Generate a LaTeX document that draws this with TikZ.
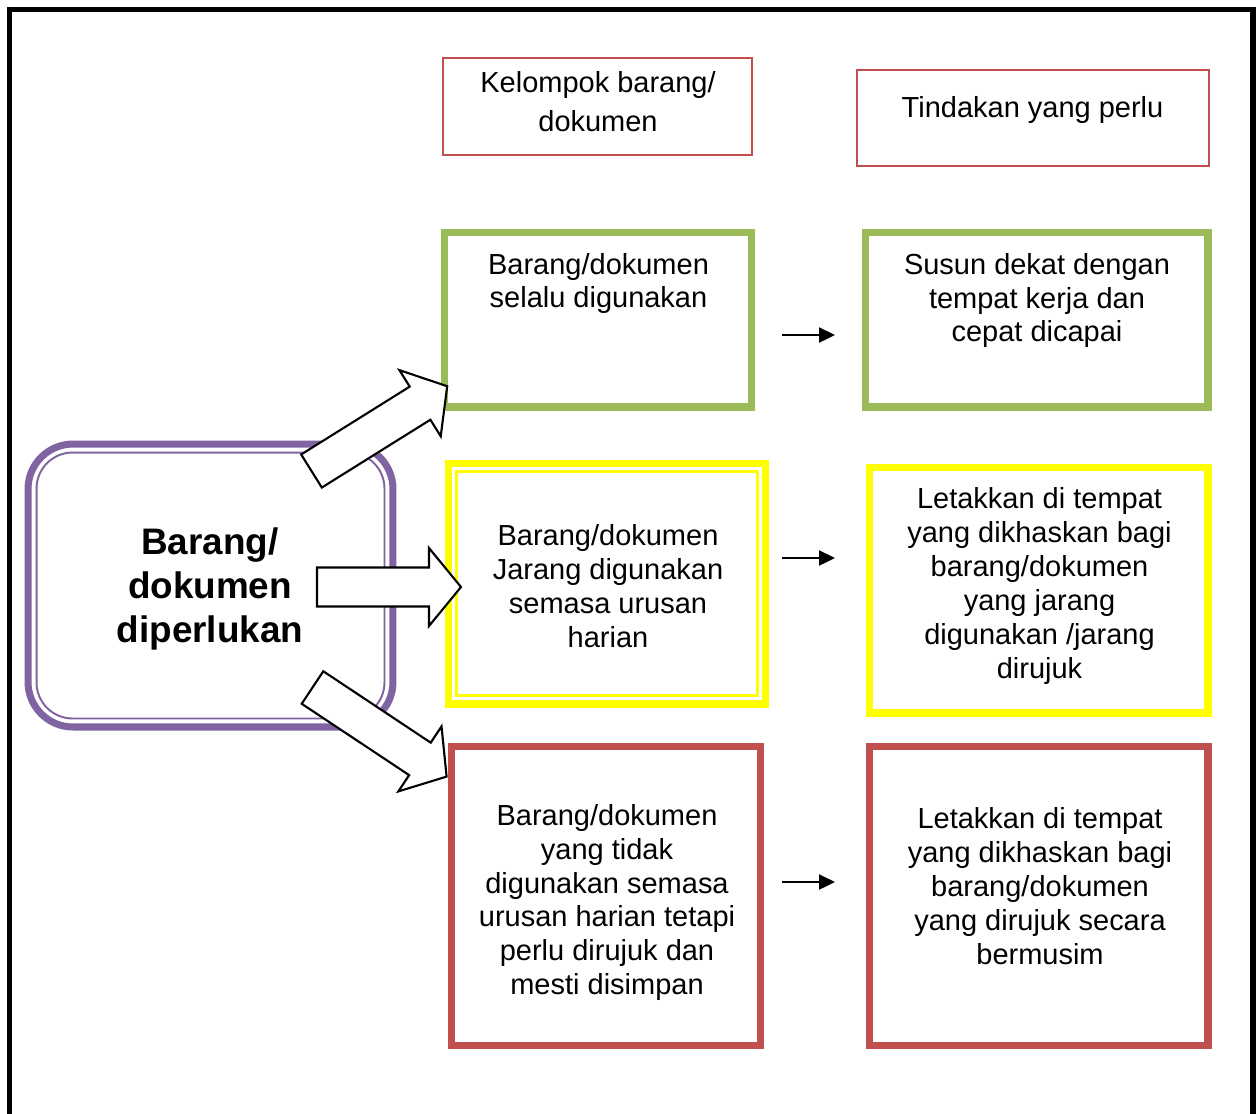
\documentclass[tikz,border=0pt]{standalone}
\usepackage{fontspec}
\setmainfont{Liberation Sans}
\usetikzlibrary{arrows.meta}
\definecolor{grpurple}{HTML}{8064A2}
\definecolor{grgreen}{HTML}{9BBB59}
\definecolor{grred}{HTML}{C0504D}
\definecolor{gryellow}{HTML}{FFFF00}

\tikzset{
  box/.style={draw, rectangle, outer sep=0pt, inner sep=0pt, line width=4pt},
  headbox/.style={box, draw=grred, line width=1.1pt},
  txt/.style={align=center, inner sep=0pt, font=\fontsize{16.5pt}{19.3pt}\selectfont},
  pointer/.style={line width=1.3pt, -{Triangle[length=0.32cm,width=0.3cm]}},
  bigarrow/.style={draw=black, fill=white, line width=1.2pt},
  pics/fatarrow/.style={code={
    \draw[bigarrow] (0,-19.5) -- ({#1-32},-19.5) -- ({#1-32},-39) -- (#1,0)
      -- ({#1-32},39) -- ({#1-32},19.5) -- (0,19.5) -- cycle;
  }}
}

\begin{document}
\begin{tikzpicture}[x=0.02cm, y=-0.02cm]
    \clip (0,0) rectangle (1256,1113);
    \fill[white] (0,0) rectangle (1256,1113);

    % Frame
    \draw[line width=2.9pt] (9.5,1130) -- (9.5,9.5) -- (1253,9.5) -- (1253,1130);

    % Headings
    \node[headbox, minimum width=6.18cm, minimum height=1.94cm] (hd1) at (597.5,106.5) {};
    \node[headbox, minimum width=7.04cm, minimum height=1.92cm] (hd2) at (1033,118) {};
    \node[txt, font=\fontsize{16.5pt}{22.1pt}\selectfont] (hd1t) at (598,102) {Kelompok barang/\\dokumen};
    \node[txt] (hd2t) at (1032.5,110) {Tindakan yang perlu};

    % Centre box
    \node[box, draw=grpurple, rounded corners=0.9cm, minimum width=7.3cm, minimum height=5.66cm] (pur) at (210.5,585.5) {};
    \draw[grpurple, line width=1.1pt, rounded corners=0.72cm]
      ([shift={(8.5,8.5)}]pur.north west) rectangle ([shift={(-8.5,-8.5)}]pur.south east);
    \node[txt, font=\fontsize{21pt}{25pt}\selectfont\bfseries] (purt) at (210,589) {Barang/\\dokumen\\diperlukan};

    % Often used
    \node[box, draw=grgreen, minimum width=6.16cm, minimum height=3.5cm] (g1) at (598,319.5) {};
    \node[box, draw=grgreen, minimum width=6.86cm, minimum height=3.5cm] (g2) at (1036.5,319.5) {};
    \node[txt] (g1t) at (598.5,283.5) {Barang/dokumen\\selalu digunakan};
    \node[txt] (g2t) at (1037,300.5) {Susun dekat dengan\\tempat kerja dan\\cepat dicapai};

    % Rarely used
    \node[box, draw=gryellow, minimum width=6.36cm, minimum height=4.82cm] (y1) at (607,583.5) {};
    \draw[gryellow, line width=1.3pt]
      ([shift={(8.5,8.5)}]y1.north west) rectangle ([shift={(-8.5,-8.5)}]y1.south east);
    \node[box, draw=gryellow, minimum width=6.78cm, minimum height=4.92cm] (y2) at (1038.5,590) {};
    \node[txt] (y1t) at (608,586) {Barang/dokumen\\Jarang digunakan\\semasa urusan\\harian};
    \node[txt] (y2t) at (1039.5,586) {Letakkan di tempat\\yang dikhaskan bagi\\barang/dokumen\\yang jarang\\digunakan /jarang\\dirujuk};

    % Seasonal
    \node[box, draw=grred, minimum width=6.19cm, minimum height=5.97cm] (r1) at (606,896) {};
    \node[box, draw=grred, minimum width=6.78cm, minimum height=5.97cm] (r2) at (1038.5,896) {};
    \node[txt] (r1t) at (607,902.5) {Barang/dokumen\\yang tidak\\digunakan semasa\\urusan harian tetapi\\perlu dirujuk dan\\mesti disimpan};
    \node[txt] (r2t) at (1040,886) {Letakkan di tempat\\yang dikhaskan bagi\\barang/dokumen\\yang dirujuk secara\\bermusim};

    % Small arrows
    \coordinate (s1) at (782,335);  \coordinate (e1) at (835,335);
    \coordinate (s2) at (782,558);  \coordinate (e2) at (835,558);
    \coordinate (s3) at (782,882);  \coordinate (e3) at (835,882);
    \draw[pointer] (s1) -- (e1);
    \draw[pointer] (s2) -- (e2);
    \draw[pointer] (s3) -- (e3);

    % Block arrows
    \coordinate (t1) at (311.5,471);
    \coordinate (t2) at (317,587);
    \coordinate (t3) at (312.5,687.5);
    \pic[rotate=32] at (t1) {fatarrow=160};
    \pic at (t2) {fatarrow=144};
    \pic[rotate=-33.6] at (t3) {fatarrow=161};
\end{tikzpicture}
\end{document}
